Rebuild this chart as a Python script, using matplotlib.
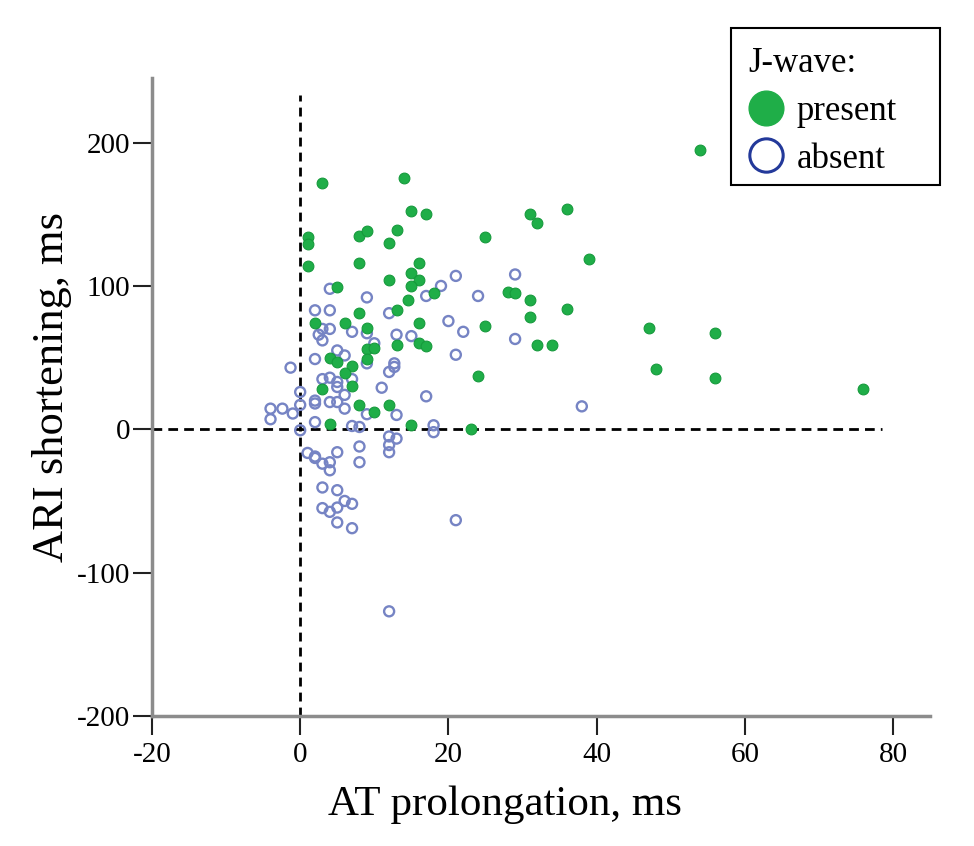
import numpy as np
import matplotlib
matplotlib.use('Agg')
import matplotlib.pyplot as plt
from matplotlib.lines import Line2D
from matplotlib.patches import Rectangle

# J-wave present (AT prolongation, ARI shortening) in ms
present_x = [1, 1, 3, 14, 15, 17, 8, 9, 13, 12, 25, 1, 8, 16, 15, 16, 12, 15, 5, 18,
             14.5, 13, 8, 2, 6, 9, 16, 25, 9, 10, 13, 16, 17, 9, 4, 5, 7, 6, 24, 7,
             3, 8, 10, 12, 4, 15, 23, 54, 31, 32, 36, 39, 28, 29, 31, 36, 31, 32, 34, 47,
             56, 48, 56, 76]
present_y = [134, 129, 172, 175, 152, 150, 135, 138, 139, 130, 134, 114, 116, 116, 109, 104, 104, 100, 99, 95,
             90, 83, 81, 74, 74, 71, 74, 72, 56, 57, 58.5, 60, 58, 49, 50, 47, 44, 39, 37, 30,
             28, 17, 12, 17, 4, 3, 0, 195, 150, 144, 154, 119, 96, 95, 90, 84, 78, 59, 59, 71,
             67, 42, 36, 28]

# J-wave absent
absent_x = [21, 19, 29, 24, 4, 9, 17, 2, 4, 12, 20, 3, 4, 7, 9, 13, 22, 15, 3, 10,
            29, 2, 5, 6, -1.3, 9, 12, 12.7, 12.7, 21, 4, 5, 7, 5, 0, 11, 17, 2, 2, 4,
            6, 5, 6, 0, -4, -4, -2.4, -1, 9, 13, 2, 7, 8, 18, 18, 0, 12, 13, 12, 12,
            8, 5, 1, 2, 2, 3, 4, 4, 8, 3, 5, 3, 4, 5, 6, 7, 5, 7, 21, 12,
            38, 2.5, 3]
absent_y = [107, 100, 108, 93, 98, 92, 93, 83, 83, 81, 75.5, 70, 70, 68, 67, 66, 68, 65, 62, 60,
            63, 49, 55, 51.5, 43, 46, 40, 46, 43.5, 52, 36, 33, 35, 29.5, 26, 29, 23, 20, 18, 19,
            24, 19, 14.4, 17, 14.4, 7, 14.4, 11, 10.5, 10, 5, 2.3, 1.6, 2.8, -2, -0.7, -5, -6.5, -11, -16,
            -12, -16, -16.5, -19, -20, -24, -23, -28.6, -23, -40.6, -42.5, -55, -57.6, -54.6, -50, -52, -65, -69, -63.4, -127,
            16, 66, 35]

green = '#1fae48'
blue = '#7684c4'

plt.rcParams['font.family'] = ['Liberation Serif', 'DejaVu Serif']
plt.rcParams['axes.unicode_minus'] = False

fig = plt.figure(figsize=(9.74, 8.46), dpi=100)
ax = fig.add_axes([0.156, 0.1537, 0.799, 0.754])

ax.plot([0, 0], [-200, 233], ls=(0, (3.2, 2.2)), color='black', lw=2, zorder=1)
ax.plot([-20, 78.5], [0, 0], ls=(0, (3.5, 2.2)), color='black', lw=2, zorder=1)

ax.scatter(absent_x, absent_y, s=52, facecolors='none', edgecolors=blue, linewidths=1.7, zorder=2)
ax.scatter(present_x, present_y, s=60, color=green, edgecolors='#169a3c', linewidths=0.8, zorder=3)

ax.set_xlim(-20, 85)
ax.set_ylim(-200, 245)
ax.set_xticks([-20, 0, 20, 40, 60, 80])
ax.set_yticks([-200, -100, 0, 100, 200])
for s in ['top', 'right']:
    ax.spines[s].set_visible(False)
for s in ['left', 'bottom']:
    ax.spines[s].set_color('#8c8c8c')
    ax.spines[s].set_linewidth(2.5)
ax.tick_params(direction='out', length=13.5, width=1.5, color='#222222', labelsize=21)
ax.tick_params(axis='x', pad=5)
ax.tick_params(axis='y', pad=2)

ax.set_xlabel('AT prolongation, ms', fontsize=31, ha='left', va='baseline')
ax.set_ylabel('ARI shortening, ms', fontsize=32, ha='left', va='baseline')
ax.xaxis.set_label_coords(0.226, -0.155, transform=ax.transAxes)
ax.yaxis.set_label_coords(-0.1144, 0.2414, transform=ax.transAxes)

# legend box drawn separately to match the wide frame
fig.add_artist(Rectangle((731 / 974, 1 - 185 / 846), 209 / 974, 157 / 846,
                         transform=fig.transFigure, fill=False, ec='black', lw=1.5))
handles = [Line2D([], [], ls='none', marker='o', markersize=25, color=green, label='present'),
           Line2D([], [], ls='none', marker='o', markersize=24, markerfacecolor='none',
                  markeredgecolor='#23399a', markeredgewidth=2.2, label='absent')]
leg = ax.legend(handles=handles, title='J-wave:', loc='upper left',
                bbox_to_anchor=(731 / 974, 1 - 30 / 846), bbox_transform=fig.transFigure,
                fontsize=25, title_fontsize=25, frameon=False,
                handletextpad=0.4, handlelength=1.0, borderpad=0.5, labelspacing=0.42,
                alignment='left', borderaxespad=0)

plt.savefig('out.png', dpi=100)
